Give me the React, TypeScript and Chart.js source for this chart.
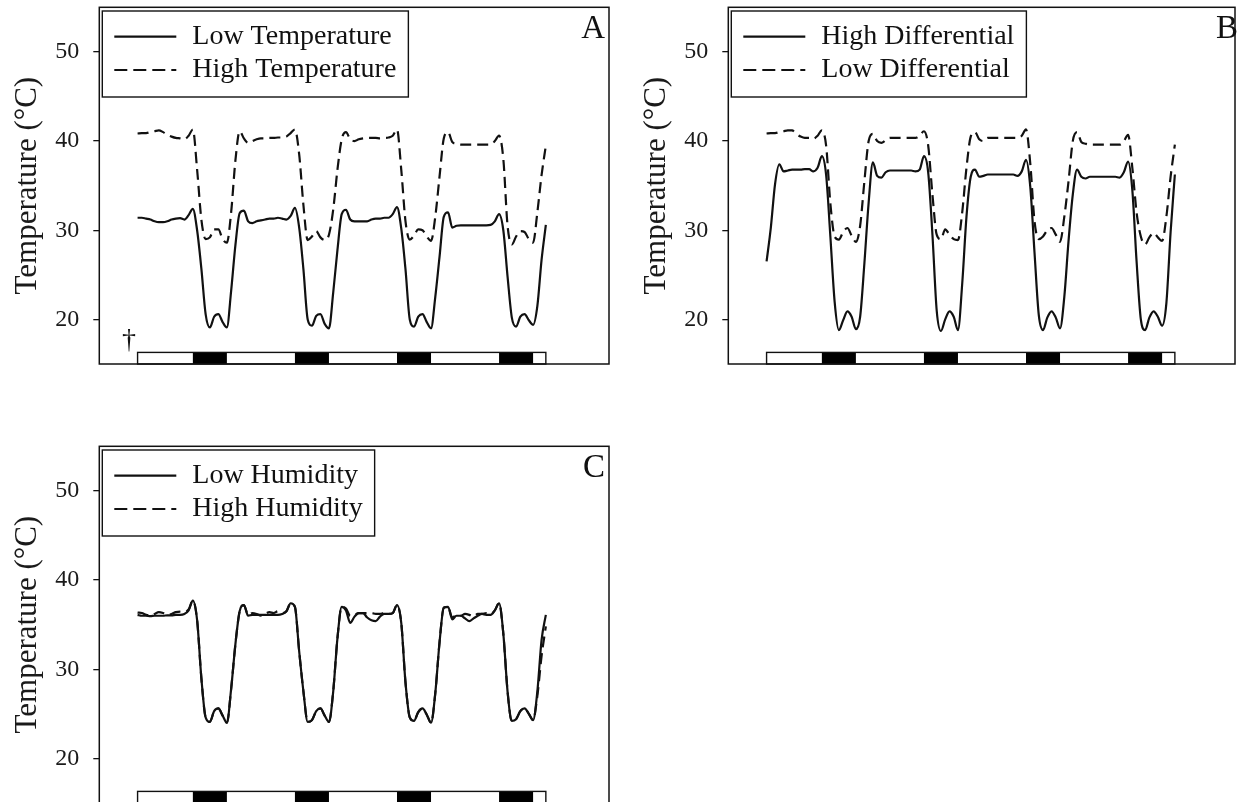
import React, { useEffect, useRef } from "react";
import { Chart, registerables } from "chart.js";

Chart.register(...registerables);

// ---------- data ----------
const HOURS = Array.from({ length: 97 }, (_, i) => i); // hour index 0..96
const Y_TICKS = [20, 30, 40, 50];
const DARK_PERIODS: [number, number][] = [[13, 21], [37, 45], [61, 69], [85, 93]];
const BAR_START = 0;
const BAR_END = 96;
const BAR_TOP = 16.3;

// Panel A
const A_LOW_TEMPERATURE = [
  31.4, 31.4, 31.3, 31.2, 31.0, 30.9, 30.9, 31.0, 31.2, 31.3, 31.35, 31.2, 31.7,
  32.4, 30.0, 25.7, 20.6, 19.1, 20.3, 20.6, 19.7, 19.1, 23.2, 28.3, 31.9,
  32.2, 31.0, 30.8, 31.0, 31.1, 31.2, 31.3, 31.3, 31.4, 31.3, 31.2, 31.6,
  32.5, 30.3, 25.6, 20.0, 19.3, 20.4, 20.6, 19.5, 19.0, 23.0, 27.8, 31.8,
  32.3, 31.2, 31.0, 31.0, 31.0, 31.0, 31.2, 31.3, 31.3, 31.4, 31.4, 31.8,
  32.6, 30.2, 25.6, 20.0, 19.2, 20.3, 20.6, 19.7, 19.0, 22.5, 27.0, 31.5,
  32.0, 30.3, 30.5, 30.55, 30.55, 30.55, 30.55, 30.55, 30.55, 30.55, 30.6, 31.0,
  31.8, 30.0, 24.8, 20.2, 19.2, 20.3, 20.6, 19.9, 19.4, 21.5, 26.7, 30.6,
];
const A_HIGH_TEMPERATURE = [
  40.85, 40.9, 40.9, 41.0, 41.1, 41.2, 41.0, 40.7, 40.5, 40.35, 40.3, 40.2, 40.6,
  41.3, 36.8, 31.2, 29.0, 29.2, 30.1, 30.1, 29.0, 28.6, 32.0, 37.8, 41.1,
  40.3, 39.8, 40.0, 40.2, 40.3, 40.3, 40.35, 40.35, 40.4, 40.4, 40.5, 40.9,
  41.3, 38.5, 32.8, 28.9, 29.3, 29.9, 29.2, 28.9, 29.5, 32.3, 36.8, 40.2,
  41.0, 40.2, 40.0, 40.2, 40.3, 40.35, 40.35, 40.35, 40.3, 40.35, 40.4, 40.6,
  41.3, 36.8, 31.0, 28.95, 29.4, 30.1, 30.0, 29.3, 28.8, 31.5, 36.0, 40.3,
  41.0, 39.9, 39.7, 39.6, 39.6, 39.6, 39.6, 39.6, 39.6, 39.6, 39.6, 40.0,
  40.6, 38.0, 30.5, 28.4, 29.3, 29.9, 29.8, 29.0, 28.6, 32.0, 36.2, 39.5,
];

// Panel B
const B_HIGH_DIFFERENTIAL = [
  26.5, 30.3, 35.2, 37.4, 36.6, 36.7, 36.8, 36.8, 36.8, 36.85, 36.85, 36.6, 37.0,
  38.3, 36.2, 29.3, 22.0, 18.8, 19.9, 20.9, 20.3, 18.9, 20.3, 26.3, 33.1,
  37.6, 36.1, 35.9, 36.5, 36.7, 36.7, 36.7, 36.7, 36.7, 36.7, 36.6, 36.8,
  38.3, 36.5, 29.5, 21.0, 18.7, 20.0, 20.9, 20.3, 18.8, 24.0, 31.5, 36.0,
  36.8, 36.0, 36.1, 36.25, 36.25, 36.25, 36.25, 36.25, 36.25, 36.25, 36.1, 36.6,
  37.9, 34.9, 27.5, 20.5, 18.8, 20.2, 20.9, 20.2, 19.0, 22.5, 28.8, 34.0,
  36.8, 36.0, 35.8, 36.0, 36.0, 36.0, 36.0, 36.0, 36.0, 36.0, 35.9, 36.5,
  37.7, 34.5, 26.5, 20.0, 18.8, 20.2, 20.9, 20.3, 19.3, 21.8, 29.8, 36.25,
];
const B_LOW_DIFFERENTIAL = [
  40.85, 40.9, 40.9, 41.0, 41.1, 41.2, 41.2, 40.8, 40.5, 40.35, 40.35, 40.25, 40.6,
  41.2, 39.5, 33.0, 29.3, 28.95, 29.8, 30.25, 29.4, 28.7, 30.5, 35.5, 40.0,
  40.8, 40.0, 39.8, 40.1, 40.35, 40.35, 40.35, 40.35, 40.35, 40.35, 40.35, 40.6,
  41.1, 39.5, 34.0, 29.5, 29.0, 30.1, 29.5, 29.0, 28.9, 32.0, 37.0, 40.5,
  41.0, 40.2, 40.0, 40.35, 40.35, 40.35, 40.35, 40.35, 40.35, 40.35, 40.35, 40.6,
  41.3, 37.5, 31.0, 29.0, 29.3, 30.0, 30.25, 29.5, 28.7, 31.5, 35.5, 40.0,
  41.0, 39.9, 39.7, 39.6, 39.6, 39.6, 39.6, 39.6, 39.6, 39.6, 39.6, 40.0,
  40.7, 37.0, 32.0, 29.3, 28.4, 29.2, 29.7, 29.2, 28.8, 31.5, 36.0, 39.6,
];

// Panel C
const C_LOW_HUMIDITY = [
  36.1, 36.0, 36.0, 35.95, 36.0, 36.0, 36.0, 36.05, 36.05, 36.1, 36.1, 36.2, 36.6,
  37.7, 35.5, 29.0, 24.6, 24.1, 25.3, 25.6, 24.8, 24.0, 27.8, 32.8, 36.5,
  37.2, 36.0, 36.1, 36.1, 36.1, 36.1, 36.1, 36.1, 36.1, 36.2, 36.5, 37.4,
  37.0, 32.0, 27.5, 24.1, 24.3, 25.3, 25.6, 24.8, 24.1, 27.5, 33.5, 37.0,
  36.6, 35.2, 35.9, 36.3, 36.3, 35.8, 35.5, 35.4, 35.9, 36.2, 36.2, 36.3,
  37.2, 35.2, 28.5, 24.6, 24.2, 25.2, 25.6, 24.9, 24.0, 27.3, 33.0, 36.9,
  37.0, 35.6, 36.0, 36.0, 35.7, 35.4, 35.7, 36.0, 36.2, 36.1, 36.1, 36.6,
  37.4, 34.0, 27.5, 24.2, 24.4, 25.3, 25.6, 25.0, 24.3, 27.5, 33.3, 36.1,
];
const C_HIGH_HUMIDITY = [
  36.35, 36.3, 36.1, 36.0, 36.2, 36.4, 36.3, 36.1, 36.2, 36.4, 36.45, 36.4, 36.7,
  37.7, 35.5, 29.0, 24.6, 24.1, 25.3, 25.6, 24.8, 24.0, 27.8, 32.8, 36.5,
  37.2, 36.1, 36.3, 36.2, 36.0, 36.2, 36.4, 36.3, 36.5, 36.3, 36.5, 37.4,
  37.0, 32.0, 27.5, 24.1, 24.3, 25.3, 25.6, 24.8, 24.1, 27.5, 33.5, 37.0,
  36.8, 36.0, 36.1, 36.3, 36.3, 36.3, 36.3, 36.2, 36.2, 36.3, 36.2, 36.3,
  37.2, 35.2, 28.5, 24.6, 24.2, 25.2, 25.6, 24.9, 24.0, 27.3, 33.0, 36.9,
  37.0, 35.8, 36.1, 36.0, 36.2, 36.1, 35.9, 36.2, 36.2, 36.3, 36.2, 36.6,
  37.4, 34.0, 27.5, 24.2, 24.4, 25.3, 25.6, 25.0, 24.3, 27.0, 31.5, 34.8,
];

// ---------- styling / layout ----------
const SERIF = '"Liberation Serif", "Times New Roman", Times, serif';
const INK = "#111111";

type Series = { label: string; values: number[]; dashed: boolean };
type PanelDef = {
  letter: string;
  left: number;
  top: number;
  width: number;
  plotRight: number;
  xMax: number;
  letterX: number;
  dagger: boolean;
  series: Series[];
};

const CANVAS_H = 380;
const PLOT_LEFT = 99.3;
const PLOT_TOP = 7.3;
const PLOT_BOTTOM = 364;

const PANELS: PanelDef[] = [
  {
    letter: "A", left: 0, top: 0, width: 620, plotRight: 609, xMax: 110.85, letterX: 605, dagger: true,
    series: [
      { label: "Low Temperature", values: A_LOW_TEMPERATURE, dashed: false },
      { label: "High Temperature", values: A_HIGH_TEMPERATURE, dashed: true },
    ],
  },
  {
    letter: "B", left: 629, top: 0, width: 612, plotRight: 606, xMax: 110.14, letterX: 609, dagger: false,
    series: [
      { label: "High Differential", values: B_HIGH_DIFFERENTIAL, dashed: false },
      { label: "Low Differential", values: B_LOW_DIFFERENTIAL, dashed: true },
    ],
  },
  {
    letter: "C", left: 0, top: 439, width: 620, plotRight: 609, xMax: 110.85, letterX: 605, dagger: false,
    series: [
      { label: "Low Humidity", values: C_LOW_HUMIDITY, dashed: false },
      { label: "High Humidity", values: C_HIGH_HUMIDITY, dashed: true },
    ],
  },
];

const decorPlugin = {
  id: "panelDecor",
  afterDraw(chart: any, _args: any, opts: any) {
    const { ctx, chartArea } = chart;
    const xs = chart.scales.x;
    const ys = chart.scales.y;
    ctx.save();

    // photoperiod bar
    const bx0 = xs.getPixelForValue(BAR_START);
    const bx1 = xs.getPixelForValue(BAR_END);
    const by0 = ys.getPixelForValue(BAR_TOP);
    const by1 = ys.getPixelForValue(15);
    ctx.fillStyle = "#ffffff";
    ctx.fillRect(bx0, by0, bx1 - bx0, by1 - by0);
    ctx.fillStyle = "#000000";
    for (const [s, e] of DARK_PERIODS) {
      const p0 = xs.getPixelForValue(s);
      const p1 = xs.getPixelForValue(e);
      ctx.fillRect(p0, by0, p1 - p0, by1 - by0);
    }
    ctx.strokeStyle = INK;
    ctx.lineWidth = 1.4;
    ctx.strokeRect(bx0, by0, bx1 - bx0, by1 - by0);

    // frame
    ctx.lineWidth = 1.5;
    ctx.strokeStyle = INK;
    ctx.strokeRect(chartArea.left, chartArea.top, chartArea.right - chartArea.left, chartArea.bottom - chartArea.top);

    // legend
    const font = `28px ${SERIF}`;
    ctx.font = font;
    const boxL = chartArea.left + 3;
    const boxT = chartArea.top + 3.7;
    const sampleL = boxL + 12;
    const sampleR = boxL + 74;
    const textX = boxL + 90;
    const rowY = [boxT + 25.7, boxT + 59];
    let maxW = 0;
    chart.data.datasets.forEach((ds: any) => {
      maxW = Math.max(maxW, ctx.measureText(ds.label).width);
    });
    const boxR = textX + maxW + 12;
    const boxB = boxT + 86;
    ctx.fillStyle = "#ffffff";
    ctx.fillRect(boxL, boxT, boxR - boxL, boxB - boxT);
    ctx.lineWidth = 1.4;
    ctx.strokeStyle = INK;
    ctx.strokeRect(boxL, boxT, boxR - boxL, boxB - boxT);
    chart.data.datasets.forEach((ds: any, i: number) => {
      const y = rowY[i];
      ctx.save();
      ctx.beginPath();
      ctx.lineWidth = 2.2;
      ctx.strokeStyle = INK;
      ctx.setLineDash(ds.borderDash && ds.borderDash.length ? [13, 6] : []);
      ctx.moveTo(sampleL, y);
      ctx.lineTo(sampleR, y);
      ctx.stroke();
      ctx.restore();
      ctx.fillStyle = INK;
      ctx.font = font;
      ctx.textAlign = "left";
      ctx.textBaseline = "middle";
      ctx.fillText(ds.label, textX, y);
    });

    // panel letter
    ctx.fillStyle = INK;
    ctx.font = `33px ${SERIF}`;
    ctx.textAlign = "right";
    ctx.textBaseline = "alphabetic";
    ctx.fillText(opts.letter, opts.letterX, 38);

    if (opts.dagger) {
      ctx.font = `28px ${SERIF}`;
      ctx.textAlign = "center";
      ctx.fillText("\u2020", 129, 348);
    }
    ctx.restore();
  },
};

function Panel({ def }: { def: PanelDef }) {
  const ref = useRef<HTMLCanvasElement | null>(null);
  useEffect(() => {
    const canvas = ref.current;
    if (!canvas) return;
    const chart = new Chart(canvas, {
      type: "line",
      data: {
        datasets: def.series.map((s) => ({
          label: s.label,
          data: HOURS.map((h, i) => ({ x: h, y: s.values[i] })),
          borderColor: INK,
          borderWidth: 2.2,
          borderDash: s.dashed ? [11, 6] : [],
          pointRadius: 0,
          cubicInterpolationMode: "monotone",
          fill: false,
        })),
      },
      options: {
        responsive: false,
        animation: false,
        devicePixelRatio: 1,
        layout: {
          padding: {
            left: 0,
            top: PLOT_TOP,
            right: def.width - def.plotRight,
            bottom: CANVAS_H - PLOT_BOTTOM,
          },
        },
        plugins: {
          legend: { display: false },
          tooltip: { enabled: false },
          panelDecor: { letter: def.letter, letterX: def.letterX, dagger: def.dagger },
        } as any,
        scales: {
          x: { type: "linear", min: -9, max: def.xMax, display: false },
          y: {
            type: "linear",
            min: 15,
            max: 55,
            afterBuildTicks: (s: any) => {
              s.ticks = Y_TICKS.map((v) => ({ value: v }));
            },
            afterFit: (s: any) => {
              s.width = PLOT_LEFT;
              s.paddingTop = 0;
              s.paddingBottom = 0;
            },
            grid: {
              drawOnChartArea: false,
              drawTicks: true,
              tickLength: 6,
              tickColor: INK,
              lineWidth: 1.3,
            },
            border: { display: false },
            ticks: {
              font: { family: SERIF, size: 24 },
              color: "#1a1a1a",
              padding: 14,
            },
            title: {
              display: true,
              text: "Temperature (°C)",
              font: { family: SERIF, size: 31 },
              color: "#1a1a1a",
              padding: { top: 9, bottom: 0 },
            },
          },
        } as any,
      },
      plugins: [decorPlugin],
    } as any);
    return () => chart.destroy();
  }, [def]);

  return (
    <canvas
      ref={ref}
      width={def.width}
      height={CANVAS_H}
      style={{ position: "absolute", left: def.left, top: def.top, width: def.width, height: CANVAS_H }}
    />
  );
}

export default function App() {
  return (
    <div
      style={{
        position: "fixed",
        left: 0,
        top: 0,
        width: 1241,
        height: 802,
        overflow: "hidden",
        background: "#ffffff",
      }}
    >
      {PANELS.map((p) => (
        <Panel key={p.letter} def={p} />
      ))}
    </div>
  );
}
